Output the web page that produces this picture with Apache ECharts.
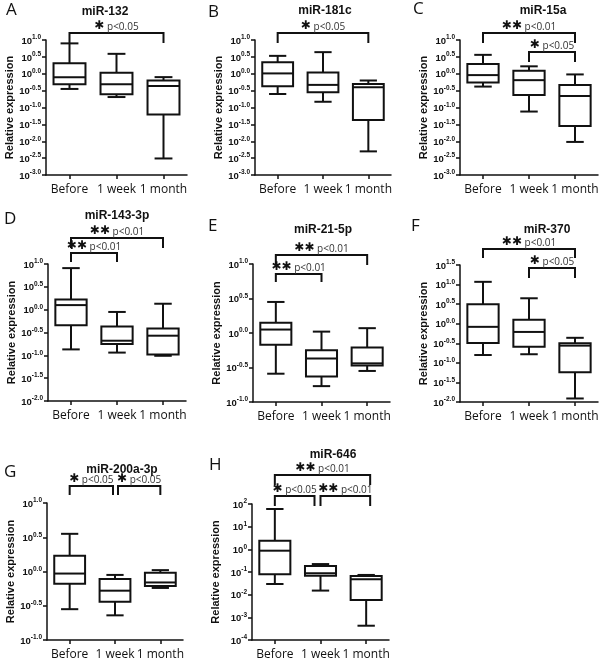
<!DOCTYPE html>
<html><head><meta charset="utf-8">
<script src="https://cdn.jsdelivr.net/npm/echarts@6/dist/echarts.min.js"></script>
<style>html,body{margin:0;padding:0;background:#fff}#c{width:600px;height:661px}</style>
</head><body><div id="c"></div>
<script>
// ---- data (log10 of relative expression): [min, Q1, median, Q3, max] per group ----
const categories = ['Before', '1 week', '1 month'];
const panelTitles = ['miR-132','miR-181c','miR-15a','miR-143-3p','miR-21-5p','miR-370','miR-200a-3p','miR-646'];
const panelLetters = ['A','B','C','D','E','F','G','H'];

const miR132    = [[-0.45,-0.31,-0.10,0.31,0.90],[-0.69,-0.61,-0.31,0.03,0.59],[-2.51,-1.21,-0.36,-0.20,-0.10]];
const miR181c   = [[-0.60,-0.37,0.01,0.34,0.53],[-0.83,-0.55,-0.33,0.04,0.64],[-2.30,-1.37,-0.40,-0.30,-0.20]];
const miR15a    = [[-0.38,-0.26,-0.04,0.29,0.56],[-1.12,-0.63,-0.19,0.09,0.22],[-2.02,-1.55,-0.66,-0.33,-0.02]];
const miR143_3p = [[-0.87,-0.34,0.10,0.22,0.91],[-0.94,-0.75,-0.68,-0.37,-0.05],[-1.01,-0.98,-0.57,-0.41,0.13]];
const miR21_5p  = [[-0.59,-0.17,0.05,0.15,0.45],[-0.77,-0.63,-0.37,-0.25,0.02],[-0.55,-0.47,-0.44,-0.21,0.07]];
const miR370    = [[-0.80,-0.49,-0.08,0.50,1.07],[-0.78,-0.59,-0.21,0.10,0.65],[-1.91,-1.24,-0.56,-0.50,-0.36]];
const miR200a_3p= [[-0.55,-0.18,-0.03,0.23,0.55],[-0.64,-0.44,-0.28,-0.11,-0.05],[-0.24,-0.21,-0.16,-0.02,0.02]];
const miR646    = [[-1.53,-1.10,-0.06,0.38,1.78],[-1.82,-1.16,-1.06,-0.74,-0.65],[-3.37,-2.24,-1.32,-1.18,-1.13]];
const panelData = [miR132, miR181c, miR15a, miR143_3p, miR21_5p, miR370, miR200a_3p, miR646];

// y-axis ranges (log10 exponent) and tick step
const yMins = [-3,-3,-3,-2,-1,-2,-1,-4];
const yMaxs = [1,1,1,1,1,1.5,1,2];
const ySteps = [0.5,0.5,0.5,0.5,0.5,0.5,0.5,1];

// significance annotations: [fromGroup, toGroup, stars, p-text]
const sigA = [[0,2,'*','p<0.05']];
const sigB = [[0,2,'*','p<0.05']];
const sigC = [[0,2,'**','p<0.01'],[1,2,'*','p<0.05']];
const sigD = [[0,2,'**','p<0.01'],[0,1,'**','p<0.01']];
const sigE = [[0,2,'**','p<0.01'],[0,1,'**','p<0.01']];
const sigF = [[0,2,'**','p<0.01'],[1,2,'*','p<0.05']];
const sigG = [[0,1,'*','p<0.05'],[1,2,'*','p<0.05']];
const sigH = [[0,2,'**','p<0.01'],[0,1,'*','p<0.05'],[1,2,'**','p<0.01']];
const panelSig = [sigA,sigB,sigC,sigD,sigE,sigF,sigG,sigH];

// ---- layout (pixels) ----
const grids = [
  {left:46, top:40, width:141, height:135},
  {left:255, top:40, width:136, height:135},
  {left:460, top:40, width:138, height:135},
  {left:48, top:264, width:138, height:137},
  {left:253, top:264, width:137, height:138},
  {left:460, top:265, width:138, height:137},
  {left:47, top:503, width:136, height:137},
  {left:252, top:504, width:137, height:136}
];
// bracket layout per annotation: y offset of the bar from grid top, drop length, x shifts of ends
const bracketLayout = [
  [{y:-7, drop:10, dx0:0, dx1:0}],
  [{y:-7, drop:10, dx0:0, dx1:0}],
  [{y:-7, drop:10, dx0:0, dx1:0},{y:12, drop:10, dx0:0, dx1:0}],
  [{y:-26, drop:10, dx0:0, dx1:0},{y:-11, drop:9, dx0:0, dx1:0}],
  [{y:-9, drop:10, dx0:0, dx1:0},{y:10, drop:8, dx0:0, dx1:0}],
  [{y:-16, drop:9, dx0:0, dx1:0},{y:3, drop:10, dx0:0, dx1:0}],
  [{y:-17, drop:9, dx0:0, dx1:-2},{y:-17, drop:9, dx0:3, dx1:0}],
  [{y:-29, drop:10, dx0:0, dx1:4},{y:-8, drop:10, dx0:0, dx1:-6},{y:-8, drop:10, dx0:0, dx1:4}]
];
const letterPos = [[1,-3],[203,-1],[408,-4],[-1,206],[203,213],[406,213],[-1,459],[204,452]];
const titlePos = [[100,1],[320,0],[538,0],[112,205],[318,219],[542,219],[117,459],[328,444]];

const FONT = '"Open Sans", "Liberation Sans", sans-serif';
const BOLD = '"Liberation Sans", Arial, sans-serif';

const titles = [];
const xAxes = [], yAxes = [], series = [];
grids.forEach((g, i) => {
  titles.push({text: panelLetters[i], left: letterPos[i][0], top: letterPos[i][1],
    textStyle: {fontSize: 17, fontWeight: 'normal', fontFamily: FONT, color: '#111'}});
  titles.push({text: panelTitles[i], left: titlePos[i][0], top: titlePos[i][1], textAlign: 'center',
    textStyle: {fontSize: 12, fontWeight: 'bold', fontFamily: BOLD, color: '#111'}});
  xAxes.push({
    type: 'category', gridIndex: i, data: categories, boundaryGap: true,
    axisLine: {show: true, onZero: false, lineStyle: {color: '#111', width: 1.5}},
    axisTick: {show: true, alignWithLabel: true, length: 4, lineStyle: {color: '#111', width: 1.5}},
    axisLabel: {fontSize: 12, fontFamily: FONT, color: '#111', margin: 9, interval: 0}
  });
  const step = ySteps[i];
  yAxes.push({
    type: 'value', gridIndex: i, min: yMins[i], max: yMaxs[i], interval: step,
    axisLine: {show: true, onZero: false, lineStyle: {color: '#111', width: 1.5}},
    axisTick: {show: true, length: 4, lineStyle: {color: '#111', width: 1.5}},
    splitLine: {show: false},
    axisLabel: {
      margin: 5, color: '#111',
      formatter: v => '{b|10}{s|' + (step < 1 ? v.toFixed(1) : String(Math.round(v))) + '}',
      rich: {
        b: {fontSize: 9.5, fontWeight: 'bold', fontFamily: BOLD, color: '#111', lineHeight: 12, verticalAlign: 'bottom'},
        s: {fontSize: 6.5, fontWeight: 'bold', fontFamily: BOLD, color: '#111', lineHeight: 12, verticalAlign: 'top'}
      }
    },
    name: 'Relative expression', nameLocation: 'middle', nameRotate: 90, nameGap: 31,
    nameTextStyle: {fontSize: 11, fontWeight: 'bold', fontFamily: BOLD, color: '#111'}
  });
  // boxes
  series.push({
    type: 'custom', xAxisIndex: i, yAxisIndex: i, clip: false,
    data: panelData[i].map((d, k) => [k].concat(d)),
    encode: {x: 0, y: [1,2,3,4,5]},
    renderItem: (params, api) => {
      const k = api.value(0);
      const pMin = api.coord([k, api.value(1)]);
      const pQ1 = api.coord([k, api.value(2)]);
      const pMed = api.coord([k, api.value(3)]);
      const pQ3 = api.coord([k, api.value(4)]);
      const pMax = api.coord([k, api.value(5)]);
      const band = api.size([1, 0])[0];
      const cx = pMed[0];
      const bw = band * 0.68, cw = band * 0.38;
      const ls = {stroke: '#111', lineWidth: 2, fill: null};
      return {type: 'group', children: [
        {type: 'line', shape: {x1: cx, y1: pQ3[1], x2: cx, y2: pMax[1]}, style: ls},
        {type: 'line', shape: {x1: cx - cw/2, y1: pMax[1], x2: cx + cw/2, y2: pMax[1]}, style: ls},
        {type: 'line', shape: {x1: cx, y1: pQ1[1], x2: cx, y2: pMin[1]}, style: ls},
        {type: 'line', shape: {x1: cx - cw/2, y1: pMin[1], x2: cx + cw/2, y2: pMin[1]}, style: ls},
        {type: 'rect', shape: {x: cx - bw/2, y: pQ3[1], width: bw, height: pQ1[1] - pQ3[1]},
          style: {stroke: '#111', lineWidth: 2, fill: '#fff'}},
        {type: 'line', shape: {x1: cx - bw/2, y1: pMed[1], x2: cx + bw/2, y2: pMed[1]}, style: ls}
      ]};
    }
  });
  // significance brackets
  const sig = panelSig[i];
  const lay = bracketLayout[i];
  series.push({
    type: 'custom', xAxisIndex: i, yAxisIndex: i, clip: false, silent: true,
    data: sig.map((s, j) => [s[0], s[1], j]),
    encode: {x: [0, 1]},
    renderItem: (params, api) => {
      const j = api.value(2);
      const L = lay[j];
      const s = sig[j];
      const top = params.coordSys.y;
      const x0 = api.coord([api.value(0), yMins[i]])[0] + L.dx0;
      const x1 = api.coord([api.value(1), yMins[i]])[0] + L.dx1;
      const y = top + L.y;
      const ls = {stroke: '#111', lineWidth: 2, fill: null};
      return {type: 'group', children: [
        {type: 'polyline', shape: {points: [[x0, y + L.drop], [x0, y], [x1, y], [x1, y + L.drop]]}, style: ls},
        {type: 'text', x: (x0 + x1) / 2, y: y - 1, style: {
          text: '{st|' + (s[2] === '**' ? '\u2731\u2731' : '\u2731') + '}{p| ' + s[3] + '}',
          align: 'center', verticalAlign: 'bottom',
          rich: {
            st: {fontSize: 12, fontFamily: '"DejaVu Sans", sans-serif', fill: '#111', color: '#111', lineHeight: 14, verticalAlign: 'bottom'},
            p: {fontSize: 10, fontFamily: FONT, fill: '#333', color: '#333', lineHeight: 14, verticalAlign: 'bottom'}
          }
        }}
      ]};
    }
  });
});

const chart = echarts.init(document.getElementById('c'), null, {renderer: 'canvas'});
chart.setOption({
  backgroundColor: '#fff',
  animation: false,
  title: titles,
  grid: grids.map(g => Object.assign({outerBoundsMode: 'none', containLabel: false}, g)),
  xAxis: xAxes,
  yAxis: yAxes,
  series: series
});
</script>
</body></html>
